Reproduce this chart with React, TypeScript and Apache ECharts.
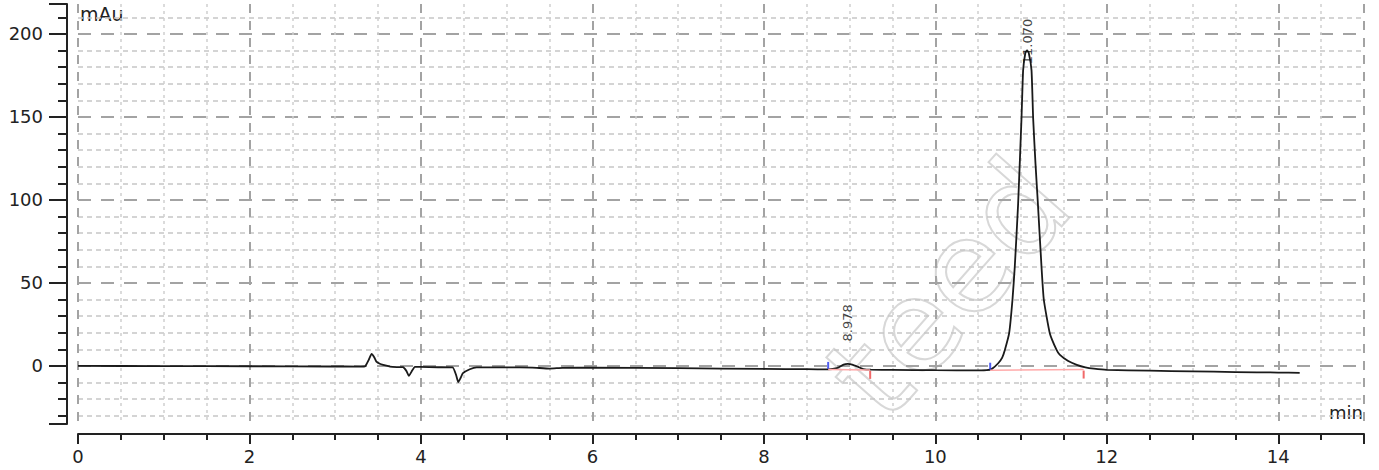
import React, { useEffect, useRef } from "react";
import * as echarts from "echarts";

// Chromatogram trace (time in min, absorbance in mAu)
const timeMin = [
  0, 1.0, 2.0, 2.94, 3.3, 3.35, 3.39, 3.425, 3.455, 3.48, 3.52, 3.56, 3.64, 3.72, 3.79,
  3.83, 3.86, 3.89, 3.93, 3.99, 4.2, 4.37, 4.41, 4.435, 4.46, 4.49, 4.57, 4.65, 5.0,
  5.3, 5.5, 5.65, 6.0, 7.0, 8.0, 8.5, 8.75, 8.85, 8.93, 8.978, 9.03, 9.1, 9.16, 9.25,
  9.5, 10.0, 10.5, 10.6, 10.66, 10.733, 10.78, 10.811, 10.861, 10.9, 10.927, 10.966,
  11.005, 11.024, 11.05, 11.07, 11.09, 11.122, 11.141, 11.168, 11.196, 11.238, 11.265,
  11.335, 11.414, 11.45, 11.55, 11.65, 11.75, 11.85, 12.0, 12.5, 13.0, 13.5, 14.0, 14.25,
];
const absorbance = [
  0.0, -0.1, -0.2, -0.35, -0.4, -0.2, 3.5, 7.2, 5.2, 2.6, 1.3, 0.6, -0.4, -0.7, -0.8,
  -3.0, -6.0, -3.5, -0.6, -0.6, -0.8, -0.9, -5.5, -9.8, -7.5, -4.4, -2.0, -0.9, -0.9,
  -1.0, -1.6, -1.2, -1.1, -1.4, -1.8, -2.0, -2.1, -1.4, 0.8, 1.2, 0.8, -0.6, -1.9, -2.3,
  -2.4, -2.6, -2.7, -2.6, -1.8, 1.6, 5.0, 9.6, 19.7, 40, 60, 98,
  149, 178, 188.5, 190, 188.5, 178, 149, 122, 98, 60, 40,
  19.7, 9.6, 6.8, 2.9, 0.6, -0.9, -1.7, -2.4, -2.9, -3.3, -3.7, -4.0, -4.2,
];

// Peak annotations
const peakTimes = [8.978, 11.07];
const peakApex = [1.2, 190];
const peakLabels = ["8.978", "11.070"];

// Integration baseline start (blue) / end (red) marks
const startMarkTimes = [8.75, 10.64];
const startMarkValues = [-2.1, -2.6];
const endMarkTimes = [9.24, 11.73];
const endMarkValues = [-2.4, -2.2];

// Axis tick labels
const yLabelValues = [0, 50, 100, 150, 200];
const xLabelValues = [0, 2, 4, 6, 8, 10, 12, 14];

const FONT = "DejaVu Sans";
const INK = "#222";

export default function App() {
  const ref = useRef<HTMLDivElement>(null);

  useEffect(() => {
    if (!ref.current) return;
    const chart = echarts.init(ref.current, null, { renderer: "svg" });

    const trace = timeMin.map((t, i) => [t, absorbance[i]]);
    const baselineSegs = startMarkTimes.map((t, i) => [
      { coord: [t, startMarkValues[i]] },
      { coord: [endMarkTimes[i], endMarkValues[i]] },
    ]);
    // label lift above apex (px, along rotated text direction)
    const labelLift = [41, 9];

    chart.setOption({
      animation: false,
      grid: { left: 78, right: 15, top: 4, bottom: 46, containLabel: false },
      xAxis: {
        type: "value",
        min: 0,
        max: 15,
        interval: 2,
        offset: 10,
        axisLine: { show: true, onZero: false, lineStyle: { color: INK, width: 2 } },
        axisTick: { show: true, length: 10, lineStyle: { color: INK, width: 2 } },
        minorTick: { show: true, splitNumber: 4, length: 6, lineStyle: { color: INK, width: 2 } },
        axisLabel: {
          fontSize: 18,
          fontFamily: FONT,
          color: INK,
          margin: 13,
          showMaxLabel: false,
          formatter: (v: number) => (xLabelValues.includes(v) ? String(v) : ""),
        },
        splitLine: { show: true, lineStyle: { color: "#a3a3a3", width: 2, type: [9, 8] } },
        minorSplitLine: { show: true, lineStyle: { color: "#cfcfcf", width: 1.5, type: [3, 4] } },
      },
      yAxis: {
        type: "value",
        min: -35,
        max: 218,
        minInterval: 50,
        maxInterval: 50,
        offset: 11,
        axisLine: { show: true, onZero: false, lineStyle: { color: INK, width: 2 } },
        axisTick: { show: true, length: 18, lineStyle: { color: INK, width: 2 } },
        minorTick: { show: true, splitNumber: 5, length: 9, lineStyle: { color: INK, width: 2 } },
        axisLabel: {
          fontSize: 18,
          fontFamily: FONT,
          color: INK,
          margin: 24,
          formatter: (v: number) => (yLabelValues.includes(v) ? String(v) : ""),
        },
        splitLine: {
          show: true,
          showMinLine: false,
          showMaxLine: false,
          lineStyle: { color: "#a3a3a3", width: 2, type: [13, 10] },
        },
        minorSplitLine: { show: true, lineStyle: { color: "#c6c6c6", width: 1.5, type: [5, 4] } },
      },
      graphic: [
        {
          type: "text",
          left: 80,
          top: 4,
          style: { text: "mAu", font: `19px ${FONT}`, fill: INK },
        },
        {
          type: "text",
          right: 16,
          top: 403,
          style: { text: "min", font: `18px ${FONT}`, fill: INK },
        },
        {
          type: "text",
          x: 948,
          y: 288,
          rotation: 0.85,
          silent: true,
          style: {
            text: "teed",
            font: `128px ${FONT}`,
            fill: "rgba(0,0,0,0)",
            stroke: "#d8d8d8",
            lineWidth: 2,
            align: "center",
            verticalAlign: "middle",
          },
          z: -1,
        },
      ],
      series: [
        {
          type: "line",
          name: "baseline",
          data: [],
          silent: true,
          markLine: {
            silent: true,
            symbol: "none",
            label: { show: false },
            lineStyle: { color: "#ffaaaa", width: 1.5, type: "solid" },
            data: baselineSegs,
          },
          z: 2,
        },
        {
          type: "line",
          name: "signal",
          data: trace,
          showSymbol: false,
          smooth: 0.15,
          lineStyle: { color: "#1a1a1a", width: 1.8 },
          z: 3,
        },
        {
          type: "scatter",
          name: "start",
          data: startMarkTimes.map((t, i) => [t, startMarkValues[i]]),
          symbol: "rect",
          symbolSize: [2, 7],
          symbolOffset: [0, -4],
          itemStyle: { color: "#2233ee" },
          z: 4,
        },
        {
          type: "scatter",
          name: "end",
          data: endMarkTimes.map((t, i) => [t, endMarkValues[i]]),
          symbol: "rect",
          symbolSize: [2, 8],
          symbolOffset: [0, 5],
          itemStyle: { color: "#ee4444" },
          z: 4,
        },
        {
          type: "scatter",
          name: "peaks",
          symbolSize: 0,
          data: peakTimes.map((t, i) => ({
            value: [t, peakApex[i]],
            label: {
              show: true,
              formatter: peakLabels[i],
              rotate: 90,
              position: "inside",
              offset: [labelLift[i], 0],
              fontSize: 13,
              fontFamily: FONT,
              color: "#111",
            },
          })),
          z: 5,
        },
      ],
    });

    return () => chart.dispose();
  }, []);

  return (
    <div
      ref={ref}
      style={{ position: "absolute", left: 0, top: 0, width: 1379, height: 470, background: "#fff" }}
    />
  );
}
